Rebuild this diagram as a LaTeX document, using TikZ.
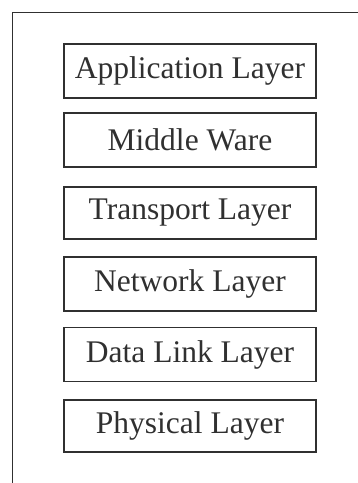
\documentclass[tikz,border=0pt]{standalone}
\usepackage{fontspec}
\setmainfont{Liberation Serif}
\definecolor{ink}{HTML}{303030}
\begin{document}
\begin{tikzpicture}[x=1pt,y=-1pt,
  layerbox/.style={draw=ink,line width=1.2pt,minimum width=252pt,inner sep=0pt,
    text=ink,font=\fontsize{31.5}{33}\selectfont,anchor=center}]
\useasboundingbox (0,0) rectangle (358,483);
\coordinate (ftop) at (358,12.5);
\coordinate (fcorner) at (12.5,12.5);
\coordinate (fbot) at (12.5,483);
\draw[ink,line width=1.4pt] (ftop) -- (fcorner) -- (fbot);
\node[layerbox,minimum height=54pt] (app) at (190,71) {Application Layer};
\node[layerbox,minimum height=54pt] (mid) at (190,140) {Middle Ware};
\node[layerbox,minimum height=52pt] (tra) at (190,213) {Transport Layer};
\node[layerbox,minimum height=54pt] (net) at (190,284) {Network Layer};
\node[layerbox,minimum height=54pt] (dll) at (190,354.5) {Data Link Layer};
\node[layerbox,minimum height=52pt] (phy) at (190,426) {Physical Layer};
\end{tikzpicture}
\end{document}
